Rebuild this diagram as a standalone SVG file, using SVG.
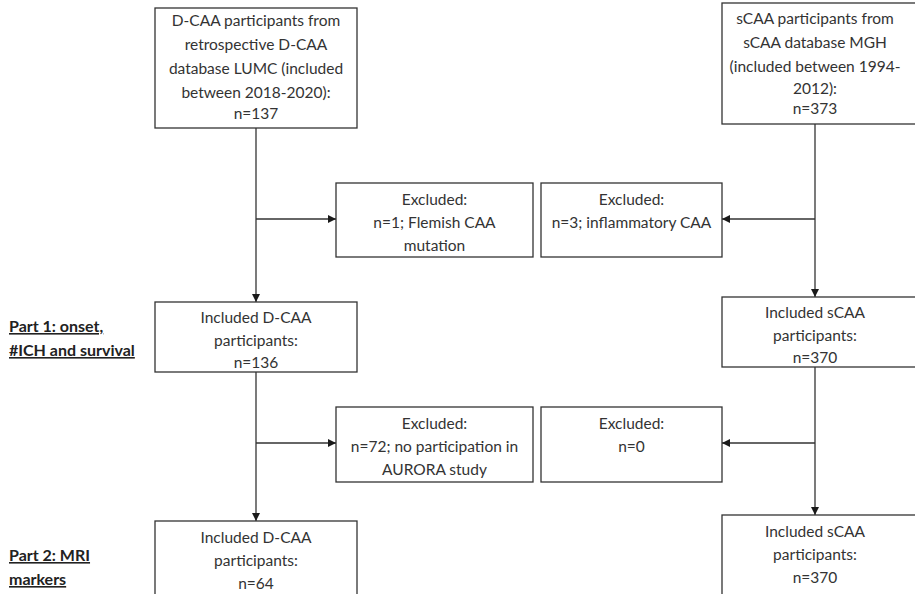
<svg xmlns="http://www.w3.org/2000/svg" width="915" height="594" viewBox="0 0 915 594">
<defs>
<marker id="arr" viewBox="0 0 10 10" refX="10" refY="5" markerWidth="8" markerHeight="8" markerUnits="userSpaceOnUse" orient="auto">
<path d="M0,0 L10,5 L0,10 Z" fill="#1a1a1a"/>
</marker>
<style>
.box{fill:#fff;stroke:#333;stroke-width:1.3}
.t{font-family:Lato,"Open Sans","Liberation Sans",sans-serif;font-size:15.5px;fill:#333;text-anchor:middle}
.lbl{font-family:Lato,"Open Sans","Liberation Sans",sans-serif;font-size:16px;font-weight:bold;fill:#222;text-decoration:underline}
.ln{fill:none;stroke:#333;stroke-width:1.3}
.la{fill:none;stroke:#333;stroke-width:1.3;marker-end:url(#arr)}
</style>
</defs>
<rect width="915" height="594" fill="#fff"/>
<g id="connectors">
<line class="la" x1="256" y1="128" x2="256" y2="302"/>
<line class="la" x1="256" y1="219" x2="336" y2="219"/>
<line class="la" x1="815" y1="124" x2="815" y2="297"/>
<line class="la" x1="815" y1="219" x2="722" y2="219"/>
<line class="la" x1="256" y1="372" x2="256" y2="521"/>
<line class="la" x1="256" y1="443" x2="336" y2="443"/>
<line class="la" x1="815" y1="367" x2="815" y2="515"/>
<line class="la" x1="815" y1="443" x2="722" y2="443"/>
</g>
<g id="dcaa-source">
<rect class="box" x="155" y="8" width="202" height="120"/>
<text class="t" x="256" y="26">D-CAA participants from</text>
<text class="t" x="256" y="50">retrospective D-CAA</text>
<text class="t" x="256" y="74">database LUMC (included</text>
<text class="t" x="256" y="98">between 2018-2020):</text>
<text class="t" x="256" y="119">n=137</text>
</g>
<g id="scaa-source">
<rect class="box" x="722" y="3" width="200" height="121"/>
<text class="t" x="815" y="24">sCAA participants from</text>
<text class="t" x="815" y="48">sCAA database MGH</text>
<text class="t" x="815" y="72">(included between 1994-</text>
<text class="t" x="815" y="94">2012):</text>
<text class="t" x="815" y="114">n=373</text>
</g>
<g id="excluded-dcaa-1">
<rect class="box" x="336" y="183" width="197" height="74"/>
<text class="t" x="434.5" y="205">Excluded:</text>
<text class="t" x="434.5" y="228">n=1; Flemish CAA</text>
<text class="t" x="434.5" y="251">mutation</text>
</g>
<g id="excluded-scaa-1">
<rect class="box" x="541" y="183" width="181" height="74"/>
<text class="t" x="631.5" y="205">Excluded:</text>
<text class="t" x="631.5" y="228">n=3; inflammatory CAA</text>
</g>
<g id="included-dcaa-1">
<rect class="box" x="155" y="302" width="202" height="70"/>
<text class="t" x="256" y="323">Included D-CAA</text>
<text class="t" x="256" y="346">participants:</text>
<text class="t" x="256" y="368">n=136</text>
</g>
<g id="included-scaa-1">
<rect class="box" x="722" y="297" width="200" height="70"/>
<text class="t" x="815" y="318">Included sCAA</text>
<text class="t" x="815" y="341">participants:</text>
<text class="t" x="815" y="363">n=370</text>
</g>
<g id="excluded-dcaa-2">
<rect class="box" x="336" y="407" width="197" height="75"/>
<text class="t" x="434.5" y="429">Excluded:</text>
<text class="t" x="434.5" y="452">n=72; no participation in</text>
<text class="t" x="434.5" y="475">AURORA study</text>
</g>
<g id="excluded-scaa-2">
<rect class="box" x="541" y="407" width="181" height="75"/>
<text class="t" x="631.5" y="429">Excluded:</text>
<text class="t" x="631.5" y="452">n=0</text>
</g>
<g id="included-dcaa-2">
<rect class="box" x="155" y="521" width="202" height="80"/>
<text class="t" x="256" y="543">Included D-CAA</text>
<text class="t" x="256" y="566">participants:</text>
<text class="t" x="256" y="589">n=64</text>
</g>
<g id="included-scaa-2">
<rect class="box" x="722" y="515" width="200" height="85"/>
<text class="t" x="815" y="537">Included sCAA</text>
<text class="t" x="815" y="560">participants:</text>
<text class="t" x="815" y="583">n=370</text>
</g>
<g id="part-labels">
<text class="lbl" x="9" y="332">Part 1: onset,</text>
<text class="lbl" x="9" y="356">#ICH and survival</text>
<text class="lbl" x="9" y="561">Part 2: MRI</text>
<text class="lbl" x="9" y="585">markers</text>
</g>
</svg>
